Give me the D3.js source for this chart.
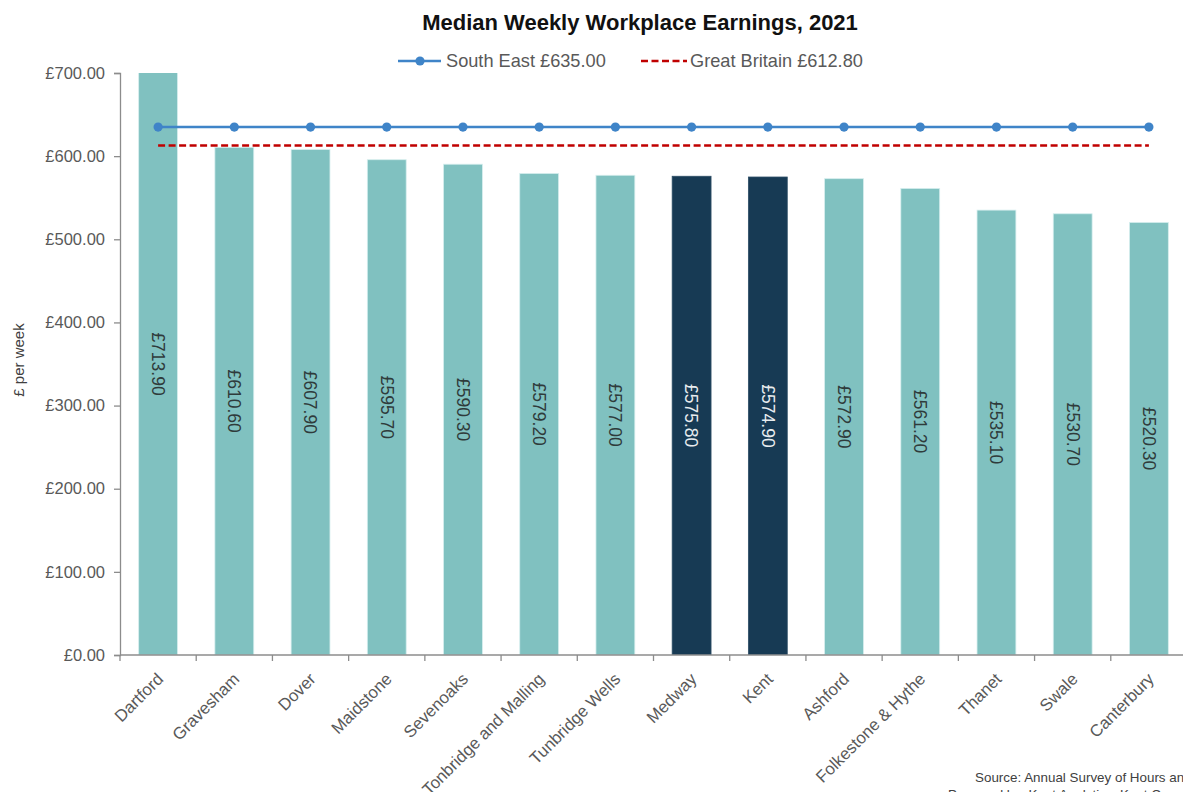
<!DOCTYPE html>
<html>
<head>
<meta charset="utf-8">
<script src="https://cdn.jsdelivr.net/npm/d3@7/dist/d3.min.js"></script>
<style>
html,body{margin:0;padding:0;background:#fff;overflow:hidden;}
svg{display:block;font-family:"Liberation Sans",Arial,sans-serif;}
</style>
</head>
<body>
<svg id="chart" width="1183" height="792"></svg>
<script>
const categories = ["Dartford","Gravesham","Dover","Maidstone","Sevenoaks","Tonbridge and Malling","Tunbridge Wells","Medway","Kent","Ashford","Folkestone & Hythe","Thanet","Swale","Canterbury"];
const earnings = [713.90,610.60,607.90,595.70,590.30,579.20,577.00,575.80,574.90,572.90,561.20,535.10,530.70,520.30];
const highlighted = ["Medway","Kent"];
const southEast = 635.00;
const greatBritain = 612.80;
const yTicks = [0,100,200,300,400,500,600,700];
const titleText = "Median Weekly Workplace Earnings, 2021";
const legendLabels = ["South East £635.00","Great Britain £612.80"];
const yAxisTitle = "£ per week";
const sourceLines = ["Source: Annual Survey of Hours and Earnings (ASHE), ONS","Prepared by: Kent Analytics, Kent County Council"];

(function(){
const svg = d3.select("#chart");
const pL = 120, pR = 1187, pT = 73, pB = 655;
const teal = "#80c1c0", navy = "#173a54", axisCol = "#8c8c8c", textCol = "#595959";

const x = d3.scaleBand().domain(categories).range([pL, pR]).paddingInner(0.49).paddingOuter(0.245);
const y = d3.scaleLinear().domain([0, 700]).range([pB, pT]);
const fmt = v => "£" + d3.format(",.2f")(v);

svg.append("defs").append("clipPath").attr("id","plotclip")
  .append("rect").attr("x", pL).attr("y", pT).attr("width", pR-pL).attr("height", pB-pT);

// Bars
const data = categories.map((c,i)=>({cat:c, val:earnings[i], hi: highlighted.includes(c)}));
const barG = svg.append("g").attr("clip-path","url(#plotclip)");
barG.selectAll("rect").data(data).join("rect")
  .attr("x", d=>x(d.cat)).attr("width", x.bandwidth())
  .attr("y", d=>y(d.val)).attr("height", d=>pB - y(d.val))
  .attr("fill", d=>d.hi ? navy : teal)
  .attr("stroke", d=>d.hi ? "#2d4e66" : "#d6eeee").attr("stroke-width", 0.8);

// Bar labels
svg.append("g").selectAll("text").data(data).join("text")
  .attr("transform", d=>{
    const cx = x(d.cat) + x.bandwidth()/2;
    const cy = (Math.max(y(d.val), pT) + pB)/2;
    return `translate(${cx},${cy}) rotate(90)`;
  })
  .attr("text-anchor","middle").attr("dy","0.35em")
  .attr("font-size", 17.5)
  .attr("fill", d=>d.hi ? "#e8ecef" : "#2f3b3b")
  .text(d=>fmt(d.val));

// Y axis
const yAxis = svg.append("g").attr("transform",`translate(${pL},0)`)
  .call(d3.axisLeft(y).tickValues(yTicks).tickFormat(fmt).tickSize(6).tickPadding(9));
yAxis.select(".domain").attr("stroke", axisCol).attr("stroke-width",1.3);
yAxis.selectAll(".tick line").attr("stroke", axisCol).attr("stroke-width",1.3);
yAxis.selectAll("text").attr("font-size",16.5).attr("fill",textCol).attr("font-family","Liberation Sans, Arial, sans-serif");

// X axis line and ticks at band boundaries
const xg = svg.append("g");
xg.append("line").attr("x1", pL).attr("x2", pR).attr("y1", pB).attr("y2", pB)
  .attr("stroke", axisCol).attr("stroke-width",1.3);
const step = x.step();
xg.selectAll("line.tk").data(categories).join("line").attr("class","tk")
  .attr("x1", d=>x(d) + x.bandwidth()/2 - step/2).attr("x2", d=>x(d) + x.bandwidth()/2 - step/2)
  .attr("y1", pB).attr("y2", pB+6).attr("stroke", axisCol).attr("stroke-width",1.3);
xg.selectAll("text").data(categories).join("text")
  .attr("transform", d=>`translate(${x(d)+x.bandwidth()/2+2},${pB+21}) rotate(-45)`)
  .attr("text-anchor","end").attr("dy","0.35em")
  .attr("font-size",16.8).attr("fill",textCol).text(d=>d);

// South East line
const xc = d => x(d) + x.bandwidth()/2;
const lineSE = d3.line().x(d=>xc(d)).y(()=>y(southEast));
svg.append("path").datum(categories).attr("d", lineSE)
  .attr("fill","none").attr("stroke","#3f84c8").attr("stroke-width",2.6);
svg.append("g").selectAll("circle").data(categories).join("circle")
  .attr("cx", d=>xc(d)).attr("cy", y(southEast)).attr("r",4.6).attr("fill","#3f84c8");

// Great Britain dashed line
const lineGB = d3.line().x(d=>xc(d)).y(()=>y(greatBritain));
svg.append("path").datum(categories).attr("d", lineGB)
  .attr("fill","none").attr("stroke","#c00000").attr("stroke-width",2.4).attr("stroke-dasharray","7,3.5");

// Title
svg.append("text").attr("x", 640).attr("y", 30).attr("text-anchor","middle")
  .attr("font-size",22).attr("font-weight","bold").attr("fill","#111").text(titleText);

// Legend
const lg = svg.append("g");
lg.append("line").attr("x1",398).attr("x2",441).attr("y1",61).attr("y2",61).attr("stroke","#3f84c8").attr("stroke-width",2.6);
lg.append("circle").attr("cx",420).attr("cy",61).attr("r",4.6).attr("fill","#3f84c8");
lg.append("text").attr("x",446).attr("y",61).attr("dy","0.35em").attr("font-size",18.2).attr("fill",textCol).text(legendLabels[0]);
lg.append("line").attr("x1",641).attr("x2",687).attr("y1",61).attr("y2",61).attr("stroke","#c00000").attr("stroke-width",2.4).attr("stroke-dasharray","7,3.5");
lg.append("text").attr("x",690).attr("y",61).attr("dy","0.35em").attr("font-size",18.2).attr("fill",textCol).text(legendLabels[1]);

// Y axis title
svg.append("text").attr("transform",`translate(24,360) rotate(-90)`).attr("text-anchor","middle")
  .attr("font-size",15).attr("fill","#404040").text(yAxisTitle);

// Source
svg.append("text").attr("x",975).attr("y",782).attr("font-size",13.4).attr("fill","#404040").text(sourceLines[0]);
svg.append("text").attr("x",948).attr("y",799).attr("font-size",13.4).attr("fill","#404040").text(sourceLines[1]);
})();
</script>
</body>
</html>
